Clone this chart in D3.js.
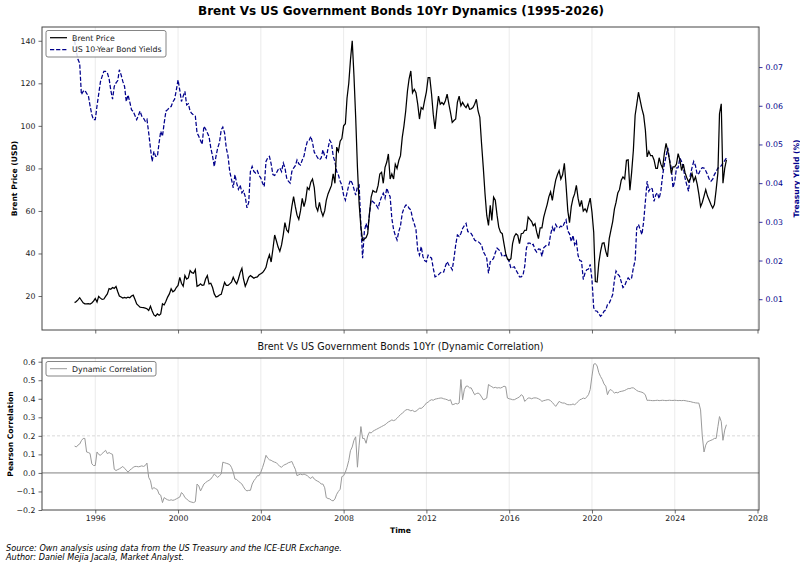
<!DOCTYPE html>
<html>
<head>
<meta charset="utf-8">
<script src="https://cdnjs.cloudflare.com/ajax/libs/d3/7.8.5/d3.min.js"></script>
<style>
  body { margin: 0; background: #fff; }
  svg { display: block; font-family: 'DejaVu Sans', sans-serif; }
</style>
</head>
<body>
<svg id="canvas"></svg>
<script>
// monthly series, first value = Jan 1995, last = Jul 2026
const startYear = 1995;

const brentPrice = [
  16.9, 17.4, 18.2, 19.2, 18.0, 16.8, 16.3, 16.3, 16.4, 16.2, 16.7, 17.6,
  18.8, 17.2, 19.8, 19.0, 18.4, 18.6, 19.8, 21.0, 23.5, 23.2, 24.0, 23.6,
  24.5, 22.0, 20.0, 19.5, 19.0, 19.3, 19.0, 19.5, 19.2, 20.0, 20.4, 18.5,
  16.3, 15.5, 14.8, 14.6, 14.5, 14.3, 14.0, 13.2, 15.2, 13.0, 11.1, 10.5,
  11.6, 11.0, 11.6, 16.3, 15.8, 17.5, 19.5, 21.0, 23.4, 22.0, 22.6, 24.0,
  25.0, 28.8, 26.0, 24.6, 29.6, 28.0, 28.5, 32.0, 31.0, 30.7, 32.4, 24.6,
  25.0, 25.7, 25.0, 25.2, 28.0, 29.6, 25.7, 26.0, 24.0, 21.0, 19.5, 19.8,
  20.5, 20.8, 23.5, 26.4, 25.0, 25.0, 25.7, 26.5, 28.8, 27.0, 25.7, 28.0,
  31.0, 33.0, 28.0, 24.6, 26.5, 28.8, 29.6, 29.0, 28.4, 28.8, 29.0, 30.0,
  30.5, 31.0, 32.0, 33.5, 37.0, 39.4, 36.0, 42.0, 48.7, 46.0, 43.0, 41.0,
  44.0, 49.0, 54.5, 51.0, 50.0, 56.0, 62.0, 66.7, 62.0, 58.0, 56.0, 60.0,
  65.9, 62.0, 65.0, 71.0, 70.0, 73.5, 75.0, 71.0, 62.0, 60.0, 64.0, 60.0,
  57.6, 60.0, 65.0, 68.0, 70.0, 72.0, 77.4, 73.0, 90.0, 88.0, 92.8, 94.0,
  100.0, 101.0, 113.0, 120.0, 131.0, 140.0, 124.0, 104.0, 80.5, 63.4, 52.4, 46.2,
  46.8, 47.5, 49.3, 58.7, 66.5, 69.6, 69.0, 68.9, 72.0, 77.4, 78.2, 73.0,
  80.5, 83.0, 86.8, 75.0, 77.4, 75.0, 82.0, 80.0, 83.7, 86.0, 94.6, 100.0,
  107.0, 116.4, 122.0, 125.8, 115.6, 117.2, 115.6, 110.2, 103.2, 108.6, 107.8, 112.0,
  116.0, 122.7, 122.7, 115.0, 105.5, 98.5, 107.0, 114.0, 110.2, 111.0, 110.0, 111.8,
  114.9, 110.2, 106.3, 101.6, 102.5, 103.2, 111.0, 114.0, 109.4, 111.0, 109.5, 108.6,
  110.2, 107.8, 108.0, 108.6, 110.2, 112.5, 107.0, 104.0, 91.5, 80.5, 68.0, 58.0,
  53.2, 62.6, 55.5, 66.5, 65.0, 58.0, 52.4, 50.0, 49.3, 44.6, 39.9, 37.5,
  36.8, 37.6, 44.6, 48.0, 49.3, 48.5, 44.6, 49.3, 49.5, 50.9, 51.0, 57.1,
  56.0, 55.0, 53.0, 54.0, 50.0, 47.0, 52.0, 52.0, 57.0, 60.0, 63.0, 66.6,
  69.0, 65.0, 70.0, 74.5, 77.0, 79.0, 75.0, 77.0, 82.4, 72.0, 60.0, 54.5,
  62.0, 66.0, 68.0, 72.0, 66.0, 62.0, 65.0, 60.0, 61.0, 59.6, 63.0, 66.0,
  59.5, 50.0, 26.8, 26.6, 35.6, 41.0, 44.8, 45.0, 41.0, 38.4, 47.0, 51.0,
  55.0, 61.0, 64.0, 68.4, 70.0, 74.5, 76.0, 75.0, 83.8, 84.0, 69.8, 78.0,
  88.5, 105.0, 110.0, 115.8, 112.0, 108.0, 105.0, 98.0, 85.4, 88.0, 86.0, 86.0,
  84.0, 80.0, 80.0, 85.0, 82.0, 80.0, 87.0, 91.8, 88.0, 84.0, 77.6, 80.7,
  80.7, 82.0, 86.9, 84.0, 79.0, 82.0, 78.0, 75.6, 73.7, 75.0, 77.6, 74.0,
  76.0, 72.5, 68.0, 62.0, 64.0, 67.0, 70.0, 67.0, 65.0, 63.0, 61.3, 63.0,
  70.0, 78.0, 105.7, 110.4, 73.0, 80.0, 84.0
];

const bondYield = [
  0.0768, 0.0740, 0.0720, 0.0710, 0.0629, 0.0637, 0.0640, 0.0632, 0.0626, 0.0600, 0.0577, 0.0564,
  0.0564, 0.0600, 0.0630, 0.0662, 0.0676, 0.0689, 0.0689, 0.0685, 0.0670, 0.0640, 0.0617, 0.0650,
  0.0659, 0.0665, 0.0693, 0.0680, 0.0663, 0.0650, 0.0611, 0.0628, 0.0610, 0.0590, 0.0585, 0.0575,
  0.0564, 0.0575, 0.0586, 0.0573, 0.0568, 0.0560, 0.0565, 0.0530, 0.0490, 0.0456, 0.0482, 0.0469,
  0.0469, 0.0505, 0.0534, 0.0521, 0.0555, 0.0586, 0.0590, 0.0595, 0.0598, 0.0610, 0.0617, 0.0640,
  0.0667, 0.0640, 0.0611, 0.0625, 0.0637, 0.0602, 0.0605, 0.0586, 0.0580, 0.0576, 0.0573, 0.0530,
  0.0521, 0.0510, 0.0500, 0.0547, 0.0540, 0.0530, 0.0520, 0.0491, 0.0470, 0.0443, 0.0470, 0.0491,
  0.0505, 0.0538, 0.0545, 0.0530, 0.0491, 0.0470, 0.0430, 0.0410, 0.0388, 0.0422, 0.0400, 0.0384,
  0.0395, 0.0375, 0.0380, 0.0365, 0.0336, 0.0350, 0.0430, 0.0443, 0.0430, 0.0426, 0.0432, 0.0420,
  0.0413, 0.0400, 0.0391, 0.0456, 0.0465, 0.0469, 0.0450, 0.0422, 0.0420, 0.0426, 0.0435, 0.0439,
  0.0430, 0.0452, 0.0440, 0.0413, 0.0405, 0.0400, 0.0430, 0.0439, 0.0445, 0.0460, 0.0450, 0.0447,
  0.0460, 0.0470, 0.0491, 0.0508, 0.0510, 0.0521, 0.0505, 0.0480, 0.0473, 0.0465, 0.0460, 0.0465,
  0.0486, 0.0470, 0.0465, 0.0490, 0.0511, 0.0503, 0.0470, 0.0455, 0.0430, 0.0421, 0.0405, 0.0395,
  0.0369, 0.0356, 0.0375, 0.0395, 0.0408, 0.0400, 0.0385, 0.0369, 0.0391, 0.0395, 0.0290, 0.0206,
  0.0275, 0.0296, 0.0280, 0.0320, 0.0356, 0.0352, 0.0348, 0.0343, 0.0335, 0.0352, 0.0365, 0.0374,
  0.0361, 0.0387, 0.0375, 0.0365, 0.0309, 0.0280, 0.0265, 0.0253, 0.0275, 0.0290, 0.0322, 0.0335,
  0.0343, 0.0343, 0.0335, 0.0331, 0.0309, 0.0295, 0.0280, 0.0227, 0.0214, 0.0236, 0.0210, 0.0200,
  0.0197, 0.0214, 0.0210, 0.0206, 0.0180, 0.0158, 0.0160, 0.0163, 0.0168, 0.0171, 0.0170, 0.0185,
  0.0197, 0.0188, 0.0185, 0.0176, 0.0205, 0.0240, 0.0266, 0.0262, 0.0270, 0.0283, 0.0290, 0.0296,
  0.0275, 0.0272, 0.0270, 0.0262, 0.0253, 0.0250, 0.0249, 0.0245, 0.0240, 0.0223, 0.0215, 0.0206,
  0.0167, 0.0197, 0.0200, 0.0206, 0.0220, 0.0232, 0.0228, 0.0223, 0.0210, 0.0212, 0.0214, 0.0205,
  0.0197, 0.0180, 0.0182, 0.0184, 0.0175, 0.0167, 0.0158, 0.0158, 0.0162, 0.0185, 0.0232, 0.0245,
  0.0245, 0.0240, 0.0242, 0.0228, 0.0222, 0.0230, 0.0229, 0.0211, 0.0233, 0.0237, 0.0241, 0.0240,
  0.0267, 0.0286, 0.0274, 0.0293, 0.0285, 0.0285, 0.0289, 0.0286, 0.0297, 0.0305, 0.0276, 0.0269,
  0.0249, 0.0265, 0.0241, 0.0250, 0.0213, 0.0200, 0.0198, 0.0151, 0.0168, 0.0176, 0.0178, 0.0190,
  0.0151, 0.0078, 0.0070, 0.0069, 0.0062, 0.0056, 0.0060, 0.0069, 0.0072, 0.0086, 0.0090, 0.0100,
  0.0112, 0.0150, 0.0173, 0.0165, 0.0160, 0.0145, 0.0130, 0.0135, 0.0147, 0.0155, 0.0150, 0.0155,
  0.0181, 0.0200, 0.0284, 0.0293, 0.0280, 0.0267, 0.0300, 0.0353, 0.0405, 0.0379, 0.0388, 0.0385,
  0.0353, 0.0370, 0.0375, 0.0360, 0.0380, 0.0420, 0.0448, 0.0470, 0.0491, 0.0460, 0.0439, 0.0388,
  0.0405, 0.0439, 0.0440, 0.0465, 0.0456, 0.0440, 0.0413, 0.0395, 0.0379, 0.0420, 0.0440, 0.0456,
  0.0445, 0.0422, 0.0425, 0.0435, 0.0440, 0.0439, 0.0432, 0.0422, 0.0410, 0.0405, 0.0410, 0.0422,
  0.0430, 0.0439, 0.0440, 0.0445, 0.0452, 0.0458, 0.0465
];

const dynCorrelation = [
  0.145, 0.140, 0.150, 0.156, 0.174, 0.186, 0.186, 0.113, 0.110, 0.105, 0.049, 0.040,
  0.040, 0.113, 0.100, 0.095, 0.105, 0.113, 0.122, 0.104, 0.110, 0.104, 0.100, 0.020,
  0.013, 0.018, 0.022, 0.028, 0.035, 0.025, 0.015, 0.004, 0.015, 0.022, 0.030, 0.035,
  0.035, 0.033, 0.035, 0.038, 0.035, 0.040, 0.053, -0.024, -0.042, -0.088, -0.079, -0.085,
  -0.090, -0.115, -0.120, -0.160, -0.133, -0.140, -0.145, -0.148, -0.145, -0.148, -0.145, -0.140,
  -0.135, -0.130, -0.106, -0.115, -0.133, -0.140, -0.150, -0.155, -0.158, -0.160, -0.155, -0.060,
  -0.070, -0.097, -0.080, -0.060, -0.052, -0.045, -0.040, -0.033, -0.020, -0.006, -0.015, -0.024,
  -0.015, -0.006, 0.058, 0.055, 0.052, 0.049, 0.045, 0.030, 0.004, -0.033, -0.035, -0.045,
  -0.052, -0.060, -0.075, -0.090, -0.097, -0.094, -0.094, -0.060, -0.042, -0.030, -0.015, -0.015,
  0.004, 0.030, 0.058, 0.095, 0.080, 0.071, 0.068, 0.062, 0.058, 0.055, 0.045, 0.035,
  0.031, 0.040, 0.045, 0.049, 0.055, 0.058, 0.062, 0.040, 0.020, -0.015, -0.010, -0.006,
  -0.010, -0.006, -0.010, -0.015, -0.024, -0.030, -0.020, -0.033, -0.040, -0.045, -0.050, -0.060,
  -0.060, -0.080, -0.133, -0.138, -0.140, -0.148, -0.151, -0.140, -0.115, -0.100, -0.088, -0.020,
  -0.015, 0.004, 0.030, 0.067, 0.120, 0.140, 0.176, 0.195, 0.031, 0.150, 0.250, 0.186,
  0.186, 0.160, 0.200, 0.220, 0.215, 0.225, 0.230, 0.235, 0.240, 0.245, 0.250, 0.255,
  0.260, 0.268, 0.275, 0.280, 0.286, 0.282, 0.286, 0.295, 0.305, 0.315, 0.322, 0.330,
  0.340, 0.342, 0.340, 0.335, 0.338, 0.331, 0.333, 0.340, 0.350, 0.348, 0.355, 0.365,
  0.377, 0.382, 0.390, 0.395, 0.392, 0.398, 0.400, 0.402, 0.404, 0.404, 0.400, 0.398,
  0.395, 0.390, 0.395, 0.368, 0.370, 0.375, 0.372, 0.377, 0.504, 0.395, 0.450, 0.468,
  0.468, 0.459, 0.459, 0.440, 0.422, 0.428, 0.431, 0.425, 0.410, 0.395, 0.398, 0.404,
  0.477, 0.470, 0.465, 0.459, 0.462, 0.458, 0.460, 0.458, 0.462, 0.468, 0.465, 0.404,
  0.400, 0.398, 0.395, 0.395, 0.400, 0.405, 0.410, 0.422, 0.415, 0.386, 0.395, 0.404,
  0.404, 0.400, 0.404, 0.405, 0.404, 0.400, 0.395, 0.386, 0.390, 0.392, 0.395, 0.395,
  0.390, 0.380, 0.370, 0.359, 0.372, 0.386, 0.380, 0.377, 0.377, 0.372, 0.368, 0.368,
  0.368, 0.372, 0.368, 0.375, 0.385, 0.395, 0.398, 0.404, 0.400, 0.410, 0.422, 0.450,
  0.522, 0.586, 0.590, 0.577, 0.541, 0.520, 0.504, 0.480, 0.468, 0.422, 0.445, 0.450,
  0.440, 0.431, 0.435, 0.432, 0.438, 0.440, 0.442, 0.445, 0.450, 0.455, 0.455, 0.459,
  0.459, 0.452, 0.445, 0.440, 0.438, 0.435, 0.431, 0.420, 0.391, 0.392, 0.391, 0.390,
  0.390, 0.391, 0.392, 0.390, 0.391, 0.392, 0.391, 0.390, 0.391, 0.392, 0.391, 0.391,
  0.392, 0.391, 0.390, 0.391, 0.390, 0.391, 0.390, 0.388, 0.386, 0.385, 0.382, 0.380,
  0.378, 0.377, 0.377, 0.340, 0.200, 0.113, 0.150, 0.168, 0.172, 0.176, 0.180, 0.186,
  0.186, 0.250, 0.304, 0.277, 0.176, 0.231, 0.260
];

const xTickYears = [1996, 2000, 2004, 2008, 2012, 2016, 2020, 2024, 2028];
const brentTicks = [20, 40, 60, 80, 100, 120, 140];
const yieldTicks = [0.01, 0.02, 0.03, 0.04, 0.05, 0.06, 0.07];
const corrTicks = [-0.2, -0.1, 0.0, 0.1, 0.2, 0.3, 0.4, 0.5, 0.6];

// layout
const width = 800;
const height = 568;
const left = 42;
const right = 759;
const top1 = 27;
const bottom1 = 330;
const top2 = 358;
const bottom2 = 510;

const navy = '#00008b';
const spineColor = '#444';
const tickFont = '7.8px';

let canvas = d3.select('#canvas')
  .attr('width', width)
  .attr('height', height);

canvas.append('rect')
  .attr('width', width)
  .attr('height', height)
  .attr('fill', '#fff');

let dates = brentPrice.map((d, i) => new Date(startYear, i, 1));

// matplotlib-like 5% margins
let padExtent = (ext) => {
  let span = ext[1] - ext[0];
  return [ext[0] - span * 0.05, ext[1] + span * 0.05];
};

let dateExt = d3.extent(dates).map(d => +d);
let xDom = padExtent(dateExt).map(d => new Date(d));

let xTop = d3.scaleTime().domain(xDom).range([left, right]);
let xBottom = d3.scaleTime().domain(xDom).range([left, right]);

let yBrent = d3.scaleLinear()
  .domain(padExtent(d3.extent(brentPrice)))
  .range([bottom1, top1]);

let yYield = d3.scaleLinear()
  .domain(padExtent(d3.extent(bondYield)))
  .range([bottom1, top1]);

let yCorr = d3.scaleLinear()
  .domain([-0.2, 0.62])
  .range([bottom2, top2]);

let xTickDates = xTickYears.map(y => new Date(y, 0, 1));

let styleAxis = (g, color) => {
  g.select('.domain').remove();
  g.selectAll('.tick line').attr('stroke', color || spineColor).attr('stroke-width', 0.8);
  g.selectAll('.tick text')
    .attr('fill', color || '#222')
    .style('font-family', "'DejaVu Sans', sans-serif")
    .style('font-size', tickFont);
};

let drawGrid = (xs, y0, y1) => {
  canvas.append('g')
    .selectAll('line')
    .data(xTickDates)
    .enter()
    .append('line')
    .attr('x1', d => xs(d))
    .attr('x2', d => xs(d))
    .attr('y1', y0)
    .attr('y2', y1)
    .attr('stroke', '#e6e6e6')
    .attr('stroke-width', 0.8);
};

let drawFrame = (y0, y1) => {
  canvas.append('rect')
    .attr('x', left)
    .attr('y', y0)
    .attr('width', right - left)
    .attr('height', y1 - y0)
    .attr('fill', 'none')
    .attr('stroke', spineColor)
    .attr('stroke-width', 1);
};

// ---------- top panel ----------
drawGrid(xTop, top1, bottom1);

let brentLine = d3.line()
  .x((d, i) => xTop(dates[i]))
  .y(d => yBrent(d));

let yieldLine = d3.line()
  .x((d, i) => xTop(dates[i]))
  .y(d => yYield(d));

canvas.append('path')
  .datum(bondYield)
  .attr('d', yieldLine)
  .attr('fill', 'none')
  .attr('stroke', navy)
  .attr('stroke-width', 1.25)
  .attr('stroke-dasharray', '4.2,1.9');

canvas.append('path')
  .datum(brentPrice)
  .attr('d', brentLine)
  .attr('fill', 'none')
  .attr('stroke', '#000')
  .attr('stroke-width', 1.25);

canvas.append('g')
  .attr('transform', `translate(0, ${bottom1})`)
  .call(d3.axisBottom(xTop).tickValues(xTickDates).tickFormat('').tickSizeInner(3.5).tickSizeOuter(0))
  .call(g => styleAxis(g));

canvas.append('g')
  .attr('transform', `translate(${left}, 0)`)
  .call(d3.axisLeft(yBrent).tickValues(brentTicks).tickFormat(d3.format('d')).tickSizeInner(3.5).tickSizeOuter(0).tickPadding(3))
  .call(g => styleAxis(g));

canvas.append('g')
  .attr('transform', `translate(${right}, 0)`)
  .call(d3.axisRight(yYield).tickValues(yieldTicks).tickFormat(d3.format('.2f')).tickSizeInner(3.5).tickSizeOuter(0).tickPadding(3))
  .call(g => styleAxis(g, navy));

drawFrame(top1, bottom1);

// legend top
let legend1 = canvas.append('g').attr('transform', 'translate(46, 30.5)');
legend1.append('rect')
  .attr('width', 120)
  .attr('height', 26.5)
  .attr('rx', 2)
  .attr('fill', '#fff')
  .attr('fill-opacity', 0.85)
  .attr('stroke', '#666')
  .attr('stroke-width', 0.8);
legend1.append('line')
  .attr('x1', 4).attr('x2', 21).attr('y1', 7.2).attr('y2', 7.2)
  .attr('stroke', '#000').attr('stroke-width', 1.25);
legend1.append('line')
  .attr('x1', 4).attr('x2', 21).attr('y1', 19).attr('y2', 19)
  .attr('stroke', navy).attr('stroke-width', 1.25).attr('stroke-dasharray', '4.2,1.9');
legend1.selectAll('text')
  .data(['Brent Price', 'US 10-Year Bond Yields'])
  .enter()
  .append('text')
  .attr('x', 26)
  .attr('y', (d, i) => 10 + i * 11.8)
  .style('font-size', '7.85px')
  .attr('fill', '#222')
  .text(d => d);

// ---------- bottom panel ----------
drawGrid(xBottom, top2, bottom2);

canvas.append('line')
  .attr('x1', left).attr('x2', right)
  .attr('y1', yCorr(0.2)).attr('y2', yCorr(0.2))
  .attr('stroke', '#cfcfcf')
  .attr('stroke-width', 0.8)
  .attr('stroke-dasharray', '3,2');

canvas.append('line')
  .attr('x1', left).attr('x2', right)
  .attr('y1', yCorr(0)).attr('y2', yCorr(0))
  .attr('stroke', '#808080')
  .attr('stroke-width', 1);

let corrLine = d3.line()
  .x((d, i) => xBottom(dates[i]))
  .y(d => yCorr(d));

canvas.append('path')
  .datum(dynCorrelation)
  .attr('d', corrLine)
  .attr('fill', 'none')
  .attr('stroke', '#9a9a9a')
  .attr('stroke-width', 1);

canvas.append('g')
  .attr('transform', `translate(0, ${bottom2})`)
  .call(d3.axisBottom(xBottom).tickValues(xTickDates).tickFormat(d3.timeFormat('%Y')).tickSizeInner(3.5).tickSizeOuter(0).tickPadding(2))
  .call(g => styleAxis(g));

canvas.append('g')
  .attr('transform', `translate(${left}, 0)`)
  .call(d3.axisLeft(yCorr).tickValues(corrTicks).tickFormat(d3.format('.1f')).tickSizeInner(3.5).tickSizeOuter(0).tickPadding(3))
  .call(g => styleAxis(g));

drawFrame(top2, bottom2);

// legend bottom
let legend2 = canvas.append('g').attr('transform', 'translate(46, 361.5)');
legend2.append('rect')
  .attr('width', 110)
  .attr('height', 14.5)
  .attr('rx', 2)
  .attr('fill', '#fff')
  .attr('fill-opacity', 0.85)
  .attr('stroke', '#666')
  .attr('stroke-width', 0.8);
legend2.append('line')
  .attr('x1', 4).attr('x2', 21).attr('y1', 7.2).attr('y2', 7.2)
  .attr('stroke', '#9a9a9a').attr('stroke-width', 1);
legend2.append('text')
  .attr('x', 26)
  .attr('y', 10)
  .style('font-size', '7.85px')
  .attr('fill', '#222')
  .text('Dynamic Correlation');

// ---------- titles and labels ----------
canvas.append('text')
  .attr('x', 401)
  .attr('y', 15)
  .attr('text-anchor', 'middle')
  .style('font-size', '12px')
  .style('font-weight', 'bold')
  .text('Brent Vs US Government Bonds 10Yr Dynamics (1995-2026)');

canvas.append('text')
  .attr('x', 400.5)
  .attr('y', 350)
  .attr('text-anchor', 'middle')
  .style('font-size', '9.6px')
  .attr('fill', '#111')
  .text('Brent Vs US Government Bonds 10Yr (Dynamic Correlation)');

canvas.append('text')
  .attr('transform', `translate(16.5, ${(top1 + bottom1) / 2}) rotate(-90)`)
  .attr('text-anchor', 'middle')
  .style('font-size', '7.6px')
  .style('font-weight', 'bold')
  .text('Brent Price (USD)');

canvas.append('text')
  .attr('transform', `translate(798.5, ${(top1 + bottom1) / 2}) rotate(-90)`)
  .attr('text-anchor', 'middle')
  .style('font-size', '7.6px')
  .style('font-weight', 'bold')
  .attr('fill', navy)
  .text('Treasury Yield (%)');

canvas.append('text')
  .attr('transform', `translate(12.7, ${(top2 + bottom2) / 2}) rotate(-90)`)
  .attr('text-anchor', 'middle')
  .style('font-size', '7.6px')
  .style('font-weight', 'bold')
  .text('Pearson Correlation');

canvas.append('text')
  .attr('x', (left + right) / 2)
  .attr('y', 533)
  .attr('text-anchor', 'middle')
  .style('font-size', '7.6px')
  .style('font-weight', 'bold')
  .text('Time');

canvas.selectAll('.footnote')
  .data([
    'Source: Own analysis using data from the US Treasury and the ICE-EUR Exchange.',
    'Author: Daniel Mejia Jacala, Market Analyst.'
  ])
  .enter()
  .append('text')
  .attr('class', 'footnote')
  .attr('x', 6)
  .attr('y', (d, i) => 551 + i * 9.3)
  .style('font-size', '8.15px')
  .style('font-style', 'italic')
  .text(d => d);
</script>
</body>
</html>
